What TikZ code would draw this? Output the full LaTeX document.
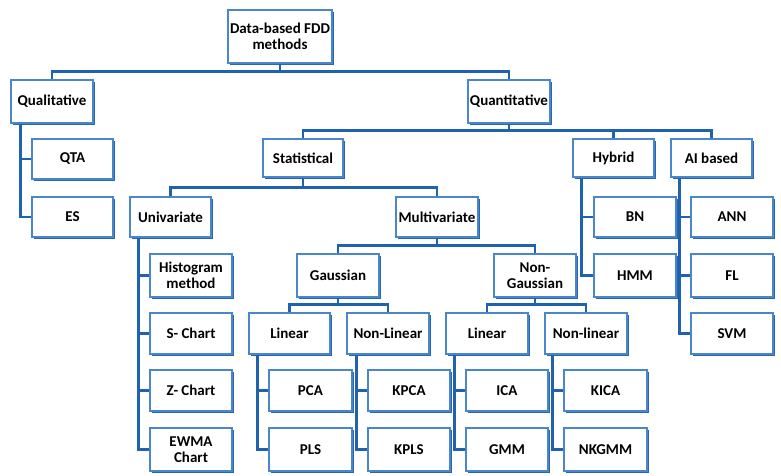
\documentclass[tikz,border=0pt]{standalone}
\usepackage{fontspec}
\setmainfont{Carlito}
\usetikzlibrary{shadows}
\definecolor{boxline}{HTML}{4A86CC}
\definecolor{boxshadow}{HTML}{2A66B0}
\definecolor{conncol}{HTML}{1F62B0}
\tikzset{
  box/.style={draw=boxline, line width=1.2pt, fill=white, inner sep=1pt,
    font=\bfseries\fontsize{15}{16.5}\selectfont, align=center,
    minimum width=82pt, minimum height=41pt,
    drop shadow={shadow xshift=1.5pt, shadow yshift=-1.5pt, fill=boxshadow, opacity=1}},
  connector/.style={draw=conncol, line width=2.6pt},
}
\begin{document}
\begin{tikzpicture}[x=1pt,y=-1pt]
\useasboundingbox (0,0) rectangle (781,475);
% connectors first (behind boxes)
\path (52,80) coordinate (qn) (280,63) coordinate (rs);
% level 0
\node[box, minimum width=104pt, minimum height=53pt] (root) at (280,36.5) {Data-based FDD\\methods};
% level 1
\node[box, minimum height=43pt] (qual) at (52,101.5) {Qualitative};
\node[box, minimum height=43pt] (quant) at (509,101.5) {Quantitative};
% level 2
\node[box, minimum width=80pt, minimum height=38pt] (stat) at (303,158) {Statistical};
\node[box, minimum width=81pt, minimum height=38pt] (hybrid) at (613.5,158) {Hybrid};
\node[box, minimum width=81pt, minimum height=38pt] (ai) at (711.5,158) {AI based};
\node[box, minimum width=81pt, minimum height=40pt] (qta) at (72.5,159) {QTA};
\node[box, minimum width=81pt, minimum height=40pt] (es) at (72.5,217) {ES};
% level 3
\node[box, minimum width=81pt, minimum height=40pt] (uni) at (170.5,217) {Univariate};
\node[box, minimum height=40pt] (multi) at (437,217) {Multivariate};
\node[box, minimum height=40pt] (bn) at (635,217) {BN};
\node[box, minimum height=40pt] (ann) at (732,217) {ANN};
% level 4
\node[box, minimum height=43pt] (hist) at (191,275.5) {Histogram\\method};
\node[box, minimum height=43pt] (gauss) at (338,275.5) {Gaussian};
\node[box, minimum height=43pt] (ngauss) at (535,275.5) {Non-\\Gaussian};
\node[box, minimum height=43pt] (hmm) at (635,275.5) {HMM};
\node[box, minimum height=43pt] (fl) at (732,275.5) {FL};
% level 5
\node[box] (schart) at (191,333.5) {S- Chart};
\node[box, minimum width=81pt] (lin1) at (289.5,333.5) {Linear};
\node[box] (nlin1) at (388,333.5) {Non-Linear};
\node[box] (lin2) at (487,333.5) {Linear};
\node[box] (nlin2) at (586,333.5) {Non-linear};
\node[box] (svm) at (732,333.5) {SVM};
% level 6
\node[box] (zchart) at (191,390.5) {Z- Chart};
\node[box, minimum width=83pt] (pca) at (310.5,390.5) {PCA};
\node[box] (kpca) at (409,390.5) {KPCA};
\node[box] (ica) at (507,390.5) {ICA};
\node[box, minimum width=83pt] (kica) at (605.5,390.5) {KICA};
% level 7
\node[box, minimum height=43pt] (ewma) at (191,449.5) {EWMA\\Chart};
\node[box, minimum width=83pt, minimum height=43pt] (pls) at (310.5,449.5) {PLS};
\node[box, minimum height=43pt] (kpls) at (409,449.5) {KPLS};
\node[box, minimum height=43pt] (gmm) at (507,449.5) {GMM};
\node[box, minimum width=83pt, minimum height=43pt] (nkgmm) at (605.5,449.5) {NKGMM};

% buses
\path (qual.north) ++(0,-8) coordinate (b1);
\draw[connector] (qual.north) -- (b1) -| (quant.north);
\draw[connector] (root.south) -- (root.south |- b1);

\path (stat.north) ++(0,-8) coordinate (b2);
\draw[connector] (stat.north) -- (b2) -| (ai.north);
\draw[connector] (quant.south) -- (quant.south |- b2);
\draw[connector] (hybrid.north) -- (hybrid.north |- b2);

\path (uni.north) ++(0,-9) coordinate (b3);
\draw[connector] (uni.north) -- (b3) -| (multi.north);
\draw[connector] (stat.south) -- (stat.south |- b3);

\path (gauss.north) ++(0,-8) coordinate (b4);
\draw[connector] (gauss.north) -- (b4) -| (ngauss.north);
\draw[connector] (multi.south) -- (multi.south |- b4);

\path (lin1.north) ++(0,-8) coordinate (b5);
\draw[connector] (lin1.north) -- (b5) -| (nlin1.north);
\draw[connector] (gauss.south) -- (gauss.south |- b5);
\path (lin2.north) ++(0,-8) coordinate (b6);
\draw[connector] (lin2.north) -- (b6) -| (nlin2.north);
\draw[connector] (ngauss.south) -- (ngauss.south |- b6);

% side trees
\draw[connector] ([xshift=10pt]qual.south west) |- (es.west);
\draw[connector] ([xshift=10pt]qual.south west) |- (qta.west);

\draw[connector] ([xshift=9pt]uni.south west) |- (ewma.west);
\foreach \c in {hist,schart,zchart} \draw[connector] ([xshift=9pt]uni.south west) |- (\c.west);

\draw[connector] ([xshift=9pt]hybrid.south west) |- (hmm.west);
\draw[connector] ([xshift=9pt]hybrid.south west) |- (bn.west);

\draw[connector] ([xshift=9pt]ai.south west) |- (svm.west);
\foreach \c in {ann,fl} \draw[connector] ([xshift=9pt]ai.south west) |- (\c.west);

\draw[connector] ([xshift=9pt]lin1.south west) |- (pls.west);
\draw[connector] ([xshift=9pt]lin1.south west) |- (pca.west);
\draw[connector] ([xshift=10pt]nlin1.south west) |- (kpls.west);
\draw[connector] ([xshift=10pt]nlin1.south west) |- (kpca.west);
\draw[connector] ([xshift=9pt]lin2.south west) |- (gmm.west);
\draw[connector] ([xshift=9pt]lin2.south west) |- (ica.west);
\draw[connector] ([xshift=8pt]nlin2.south west) |- (nkgmm.west);
\draw[connector] ([xshift=8pt]nlin2.south west) |- (kica.west);
\end{tikzpicture}
\end{document}
